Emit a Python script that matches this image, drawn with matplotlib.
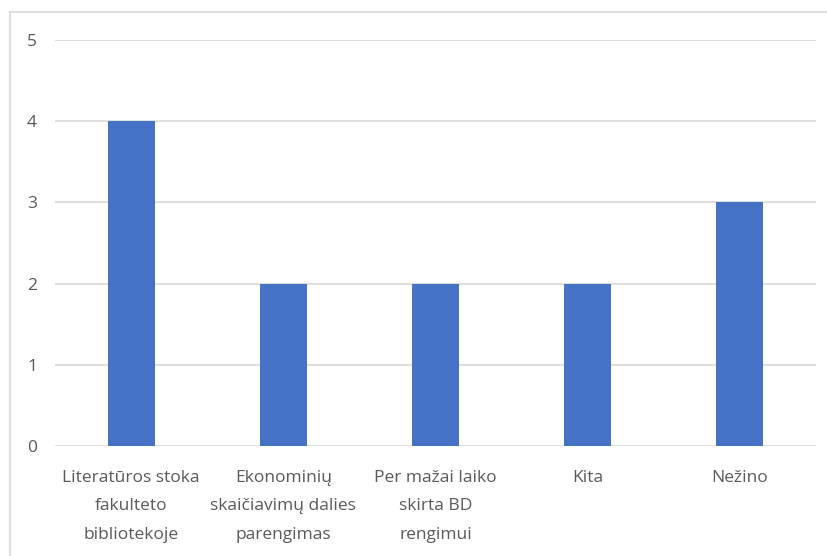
import matplotlib.pyplot as plt
from matplotlib.lines import Line2D

categories = ["Literatūros stoka\nfakulteto\nbibliotekoje",
              "Ekonominių\nskaičiavimų dalies\nparengimas",
              "Per mažai laiko\nskirta BD\nrengimui",
              "Kita",
              "Nežino"]
values = [4, 2, 2, 2, 3]
yticks = [0, 1, 2, 3, 4, 5]

plt.rcParams['font.family'] = ['Open Sans', 'DejaVu Sans']

W, H = 827, 556
fig = plt.figure(figsize=(W / 100, H / 100), dpi=100)
ax = fig.add_axes([55 / W, 1 - 446 / H, (816 - 55) / W, (446 - 40) / H])

x = range(len(categories))
ax.bar(x, values, width=0.31, color='#4472C4', zorder=3)

ax.set_xlim(-0.5, len(categories) - 0.5)
ax.set_ylim(0, 5)
ax.set_yticks(yticks)
ax.set_xticks(list(x))
ax.set_xticklabels(categories, fontsize=12.5, color='#595959', linespacing=2.05)
ax.tick_params(axis='y', labelsize=12.5, labelcolor='#595959', length=0, pad=13)
ax.tick_params(axis='x', length=0, pad=17)
ax.grid(axis='y', color='#D9D9D9', linewidth=1.2, zorder=0)
for s in ax.spines.values():
    s.set_visible(False)

# chart frame (top and left edges visible in the crop)
fig.add_artist(Line2D([10 / W, 10 / W], [0, 1 - 12 / H], transform=fig.transFigure,
                      color='#D9D9D9', linewidth=1.2))
fig.add_artist(Line2D([10 / W, 1], [1 - 12 / H, 1 - 12 / H], transform=fig.transFigure,
                      color='#D9D9D9', linewidth=1.2))

fig.savefig('out.png', dpi=100)
